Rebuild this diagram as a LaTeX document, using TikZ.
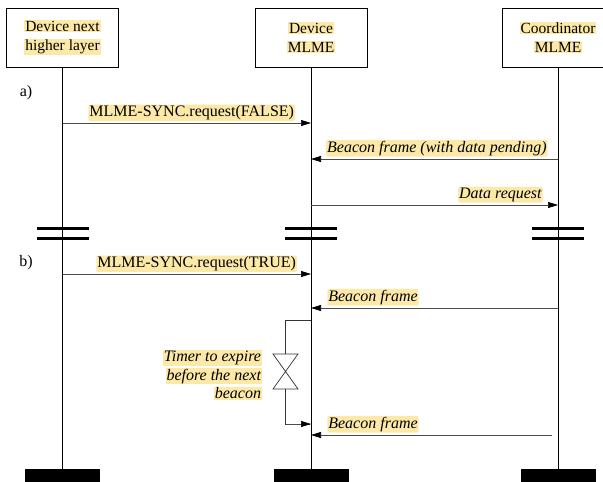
\documentclass[tikz,border=0pt]{standalone}
\usepackage{fontspec}
\setmainfont{Liberation Serif}
\usetikzlibrary{arrows.meta}
\definecolor{hly}{RGB}{252,233,168}
\newcommand\hlt[1]{{\setlength{\fboxsep}{0.8pt}\colorbox{hly}{#1}}}
\begin{document}
\begin{tikzpicture}[x=1pt,y=-1pt,
  box/.style={draw,line width=0.8pt,minimum width=112pt,minimum height=59pt,inner sep=0pt},
  boxtext/.style={align=center,inner sep=0pt,font=\fontsize{15.5}{19}\selectfont},
  lab/.style={inner sep=1pt,fill=hly,rounded corners=2pt,font=\fontsize{16}{18}\selectfont},
  ilab/.style={inner sep=1pt,fill=hly,rounded corners=2pt,font=\fontsize{16}{18}\selectfont\itshape},
  tlab/.style={align=right,inner sep=0pt,font=\fontsize{16}{18.5}\selectfont\itshape},
  sect/.style={inner sep=0pt,font=\fontsize{16}{18}\selectfont},
  msg/.style={draw=black!70,line width=0.7pt,-{Triangle[length=10pt,width=6pt,color=black]}},
  life/.style={line width=0.7pt},
  brk/.style={line width=3pt},
  bar/.style={fill=black,minimum width=75pt,minimum height=14pt,inner sep=0pt},
  timer/.style={draw=black!80,line width=0.7pt}]
\useasboundingbox (0,0) rectangle (603,482);
% header boxes
\node[box] (b1) at (62.5,37.5) {};
\node[box] (b2) at (311,37.5) {};
\node[box] (b3) at (558,37.5) {};
\node[boxtext] (t1) at (b1) {\hlt{Device next}\\\hlt{higher layer}};
\node[boxtext] (t2) at (b2) {\hlt{Device}\\\hlt{MLME}};
\node[boxtext] (t3) at (b3) {\hlt{Coordinator}\\\hlt{MLME}};
% bottom bars
\node[bar] (e1) at (62.5,476) {};
\node[bar] (e2) at (311,476) {};
\node[bar] (e3) at (558,476) {};
% lifelines
\draw[life] (b1.south) -- (e1.north);
\draw[life] (b2.south) -- (e2.north);
\draw[life] (b3.south) -- (e3.north);
% section labels
\node[sect] (sa) at (26,93) {a)};
\node[sect] (sb) at (26,263) {b)};
% message coordinates
\coordinate (m1a) at (b1.south |- 0,123);
\coordinate (m1b) at (b2.south |- 0,123);
\coordinate (m2a) at (b3.south |- 0,159);
\coordinate (m2b) at (b2.south |- 0,159);
\coordinate (m3a) at (b2.south |- 0,205);
\coordinate (m3b) at (b3.south |- 0,205);
\coordinate (m4a) at (b1.south |- 0,274);
\coordinate (m4b) at (b2.south |- 0,274);
\coordinate (m5a) at (b3.south |- 0,308);
\coordinate (m5b) at (b2.south |- 0,308);
\coordinate (m6a) at (552,435);
\coordinate (m6b) at (b2.south |- 0,435);
% messages
\draw[msg] (m1a) -- node[lab,above=1.5pt,pos=0.52] (l1) {MLME-SYNC.request(FALSE)} (m1b);
\draw[msg] (m2a) -- node[ilab,anchor=south east,pos=0,xshift=-10pt,yshift=2pt] (l2) {Beacon frame (with data pending)} (m2b);
\draw[msg] (m3a) -- node[ilab,anchor=south east,pos=1,xshift=-15pt,yshift=2pt] (l3) {Data request} (m3b);
\draw[msg] (m4a) -- node[lab,above=1.5pt,pos=0.54] (l4) {MLME-SYNC.request(TRUE)} (m4b);
\draw[msg] (m5a) -- node[ilab,anchor=south west,pos=1,xshift=16pt,yshift=2pt] (l5) {Beacon frame} (m5b);
\draw[msg] (m6a) -- node[ilab,anchor=south west,pos=1,xshift=16pt,yshift=2pt] (l6) {Beacon frame} (m6b);
% breaks
\foreach \n in {1,2,3}{
  \draw[brk] ([xshift=-26pt]b\n.south |- 0,228) -- ([xshift=26pt]b\n.south |- 0,228);
  \draw[brk] ([xshift=-26pt]b\n.south |- 0,238) -- ([xshift=26pt]b\n.south |- 0,238);
}
% timer
\coordinate (tt) at (b2.south |- 0,320);
\coordinate (tb) at (b2.south |- 0,424);
\draw[timer] (tt) -- (285.5,320) -- (285.5,354);
\draw[timer,fill=white] (273,354) -- (298,354) -- (273,389) -- (298,389) -- cycle;
\draw[timer] (285.5,389) -- (285.5,424) -- ([xshift=-1pt]tb) ;
\draw[msg] (285.5,424) -- (tb);
\node[tlab,anchor=east] (tl) at (262,375) {\hlt{Timer to expire}\\\hlt{before the next}\\\hlt{beacon}};
\end{tikzpicture}
\end{document}
